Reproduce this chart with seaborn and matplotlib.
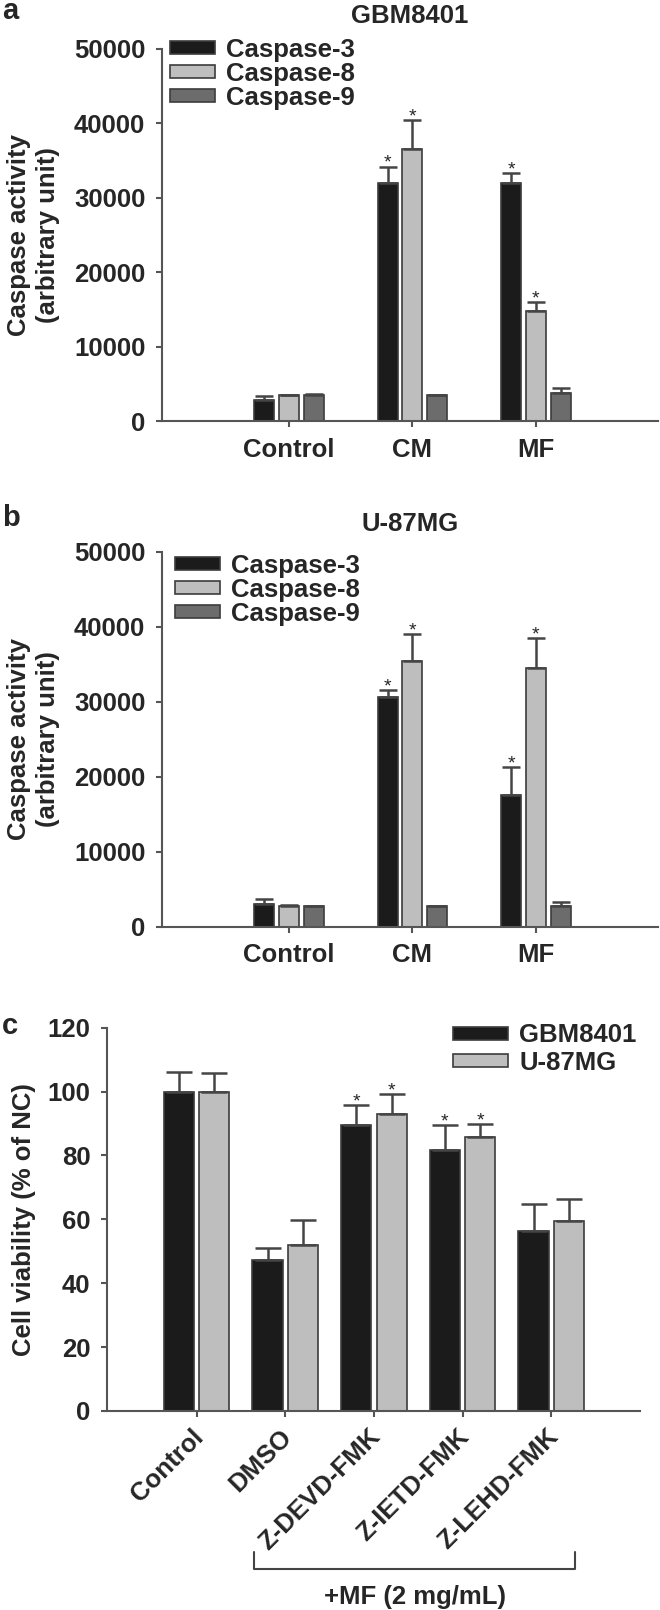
import numpy as np
import pandas as pd
import matplotlib
matplotlib.use('Agg')
import matplotlib.pyplot as plt
from matplotlib import transforms
import seaborn as sns

# panel a / b data (caspase activity, mean and upper SD)
groups_ab = ['Control', 'CM', 'MF']
caspases = ['Caspase-3', 'Caspase-8', 'Caspase-9']

gbm_mean = [[2800, 32000, 32000],
            [3450, 36600, 14800],
            [3550, 3450, 3800]]
gbm_err = [[600, 2200, 1300],
           [100, 3800, 1200],
           [100, 100, 600]]
gbm_stars = [(0, 1), (1, 1), (0, 2), (1, 2)]

u87_mean = [[3000, 30600, 17500],
            [2750, 35400, 34500],
            [2750, 2750, 2750]]
u87_err = [[650, 1000, 3800],
           [100, 3600, 4000],
           [50, 50, 600]]
u87_stars = [(0, 1), (1, 1), (0, 2), (1, 2)]

# panel c data (cell viability, % of NC)
groups_c = ['Control', 'DMSO', 'Z-DEVD-FMK', 'Z-IETD-FMK', 'Z-LEHD-FMK']
cells = ['GBM8401', 'U-87MG']
via_mean = [[100, 47.2, 89.4, 81.7, 56.3],
            [100, 52.1, 93.1, 85.7, 59.4]]
via_err = [[6.2, 3.7, 6.3, 7.7, 8.4],
           [5.8, 7.8, 6.2, 4.2, 7.1]]
via_stars = [(0, 2), (1, 2), (0, 3), (1, 3)]

colors = ['#1b1b1b', '#bebebe', '#6c6c6c']
edge = '#3c3c3c'
spine_col = '#555555'
FS = 18.5

sns.set_style('ticks')
plt.rcParams['font.family'] = ['Liberation Sans', 'DejaVu Sans']
plt.rcParams['font.weight'] = 'bold'
plt.rcParams['axes.labelweight'] = 'bold'
plt.rcParams['axes.titleweight'] = 'bold'
plt.rcParams['font.size'] = FS


def long_df(groups, series, means):
    rows = []
    for s, vals in zip(series, means):
        for g, v in zip(groups, vals):
            rows.append({'group': g, 'series': s, 'value': v})
    return pd.DataFrame(rows)


def draw_bars(ax, groups, series, means, errs, stars, width, gap, capsize):
    df = long_df(groups, series, means)
    pal = dict(zip(series, colors))
    sns.barplot(data=df, x='group', y='value', hue='series', order=groups,
                hue_order=series, palette=pal, errorbar=None, width=width,
                gap=gap, edgecolor=edge, linewidth=1.2, saturation=1, ax=ax)
    bar_conts = list(ax.containers)
    for i, cont in enumerate(bar_conts):
        bars = sorted(cont.patches, key=lambda b: b.get_x())
        xs = np.array([b.get_x() + b.get_width() / 2 for b in bars])
        hs = np.array([b.get_height() for b in bars])
        e = np.array(errs[i])
        ax.errorbar(xs, hs, yerr=[np.zeros(len(e)), e], fmt='none',
                    ecolor='#454545', elinewidth=1.8, capsize=capsize,
                    capthick=1.8, zorder=3)
        for (si, gi) in stars:
            if si == i:
                ax.annotate('*', (xs[gi], hs[gi] + e[gi]), xytext=(0, -1),
                            textcoords='offset points', ha='center',
                            va='baseline', fontsize=14, fontweight='normal')


def style_axes(ax):
    sns.despine(ax=ax)
    for sp in ['left', 'bottom']:
        ax.spines[sp].set_color(spine_col)
        ax.spines[sp].set_linewidth(1.5)
    ax.tick_params(length=4, width=1.5, color=spine_col, pad=8,
                   labelsize=FS)
    ax.set_xlabel('')


def make_legend(ax, anchor, hlen, hh, spacing):
    old = ax.get_legend()
    handles = old.legend_handles
    labels = [t.get_text() for t in old.get_texts()]
    ax.legend(handles, labels, loc='upper left', bbox_to_anchor=anchor,
              frameon=False, borderpad=0, borderaxespad=0, handlelength=hlen,
              handleheight=hh, handletextpad=0.45, labelspacing=spacing,
              prop={'weight': 'bold', 'size': FS})


fig = plt.figure(figsize=(6.6, 16.1), dpi=100)

ax_a = fig.add_axes([0.2455, 0.7385, 0.7515, 0.2311])
ax_b = fig.add_axes([0.2455, 0.4244, 0.7515, 0.2329])
ax_c = fig.add_axes([0.1621, 0.1237, 0.8076, 0.2379])

panels = [(ax_a, 'GBM8401', gbm_mean, gbm_err, gbm_stars, (0.016, 1.03), 19),
          (ax_b, 'U-87MG', u87_mean, u87_err, u87_stars, (0.026, 0.995), 15)]
for ax, title, m, e, st, anchor, tpad in panels:
    draw_bars(ax, groups_ab, caspases, m, e, st, 0.6, 0.19, 6.5)
    style_axes(ax)
    ax.set_ylim(0, 50000)
    ax.set_yticks(np.arange(0, 50001, 10000))
    ax.set_xlim(-1.03, 2.99)
    ax.set_title(title, fontsize=FS, pad=tpad)
    ax.set_ylabel('Caspase activity\n(arbitrary unit)', fontsize=FS,
                  linespacing=1.3)
    ax.yaxis.set_label_coords(-0.205, 0.5)
    make_legend(ax, anchor, 1.75, 0.4, 0.0)

# panel c
draw_bars(ax_c, groups_c, cells, via_mean, via_err, via_stars, 0.8, 0.15, 9.7)
style_axes(ax_c)
ax_c.set_ylim(0, 120)
ax_c.set_yticks(np.arange(0, 121, 20))
ax_c.set_xlim(-1.01, 5.0)
ax_c.set_ylabel('Cell viability (% of NC)', fontsize=FS)
ax_c.yaxis.set_label_coords(-0.133, 0.5)
ax_c.tick_params(axis='x', pad=12)
shift = transforms.ScaledTranslation(3 / 100, 0, fig.dpi_scale_trans)
for lbl in ax_c.get_xticklabels():
    lbl.set_rotation(45)
    lbl.set_ha('right')
    lbl.set_va('center')
    lbl.set_rotation_mode('anchor')
    lbl.set_transform(lbl.get_transform() + shift)
make_legend(ax_c, (0.649, 1.012), 2.14, 0.4, 0.13)

# bracket under the MF-treated groups
trans = transforms.blended_transform_factory(ax_c.transData, ax_c.transAxes)
b_left, b_right = 1 - 0.35, 4 + 0.27
ax_c.plot([b_left, b_left, b_right, b_right], [-0.369, -0.413, -0.413, -0.369],
          transform=trans, clip_on=False, color='#444444', lw=1.5)
ax_c.text((b_left + b_right) / 2, -0.487, '+MF (2 mg/mL)', transform=trans,
          ha='center', va='center', fontsize=FS)

# panel letters
fig.text(0.003, 1 - 11 / 1610, 'a', fontsize=21, va='center', ha='left')
fig.text(0.003, 1 - 518 / 1610, 'b', fontsize=21, va='center', ha='left')
fig.text(0.003, 1 - 1026 / 1610, 'c', fontsize=21, va='center', ha='left')

fig.savefig('out.png', dpi=100)
